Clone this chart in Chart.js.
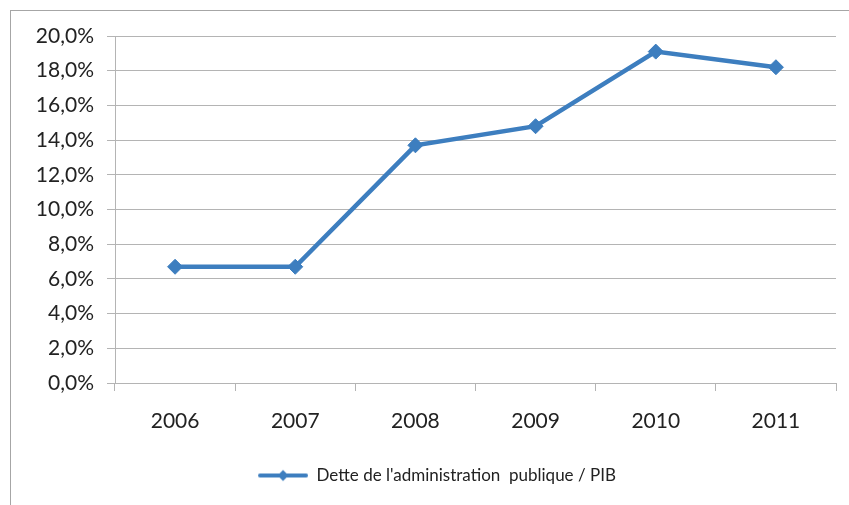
<!DOCTYPE html>
<html>
<head>
<meta charset="utf-8">
<script src="https://cdn.jsdelivr.net/npm/chart.js@4"></script>
<style>
  html, body { margin: 0; padding: 0; background: #fff; }
  #wrap { width: 849px; height: 505px; position: relative; }
</style>
</head>
<body>
<div id="wrap"><canvas id="chart"></canvas></div>
<script>
const years = ['2006', '2007', '2008', '2009', '2010', '2011'];
const detteRatio = [6.7, 6.7, 13.7, 14.8, 19.1, 18.2];
const seriesLabel = "Dette de l'administration  publique / PIB";

const lineColor = '#3d7ebf';
const gridColor = '#b4b4b4';
const textColor = '#222222';
const fontFamily = 'Lato, "Open Sans", sans-serif';

// small line + diamond swatch for the legend (blank space on the left nudges the legend right)
const swatch = document.createElement('canvas');
swatch.width = 78;
swatch.height = 14;
const sctx = swatch.getContext('2d');
sctx.strokeStyle = lineColor;
sctx.lineWidth = 4;
sctx.lineCap = 'round';
sctx.beginPath();
sctx.moveTo(30, 7);
sctx.lineTo(76, 7);
sctx.stroke();
sctx.fillStyle = lineColor;
sctx.beginPath();
sctx.moveTo(53, 1.5);
sctx.lineTo(58.5, 7);
sctx.lineTo(53, 12.5);
sctx.lineTo(47.5, 7);
sctx.closePath();
sctx.fill();

// white background and the outer frame
const framePlugin = {
    id: 'frame',
    beforeDraw(chart) {
        const ctx = chart.ctx;
        ctx.save();
        ctx.fillStyle = '#ffffff';
        ctx.fillRect(0, 0, chart.width, chart.height);
        ctx.strokeStyle = '#a6a6a6';
        ctx.lineWidth = 1;
        ctx.strokeRect(10.5, 10.5, chart.width + 20, chart.height + 20);
        ctx.restore();
    }
};

const ctx = document.getElementById('chart');

new Chart(ctx, {
    type: 'line',
    data: {
        labels: years,
        datasets: [{
            label: seriesLabel,
            data: detteRatio,
            borderColor: lineColor,
            backgroundColor: lineColor,
            borderWidth: 4.5,
            pointStyle: 'rectRot',
            pointRadius: 7.5,
            pointBorderWidth: 1,
            pointBackgroundColor: lineColor,
            pointBorderColor: lineColor,
            tension: 0,
            fill: false
        }]
    },
    options: {
        responsive: true,
        maintainAspectRatio: false,
        animation: false,
        layout: {
            padding: { left: 10, right: 13, top: 36, bottom: 11 }
        },
        scales: {
            x: {
                offset: true,
                grid: {
                    offset: true,
                    drawOnChartArea: false,
                    color: gridColor,
                    tickLength: 8
                },
                border: { color: gridColor },
                ticks: {
                    color: textColor,
                    padding: 18,
                    font: { family: fontFamily, size: 21 }
                },
                afterFit: s => { s.height = 74; }
            },
            y: {
                min: 0,
                max: 20,
                grid: {
                    color: gridColor,
                    tickLength: 8
                },
                border: { color: gridColor },
                ticks: {
                    stepSize: 2,
                    color: textColor,
                    padding: 13,
                    font: { family: fontFamily, size: 21 },
                    callback: v => v.toFixed(1).replace('.', ',') + '%'
                },
                afterFit: s => { s.width = 105; }
            }
        },
        plugins: {
            legend: {
                position: 'bottom',
                labels: {
                    usePointStyle: true,
                    pointStyle: swatch,
                    pointStyleWidth: 78,
                    color: textColor,
                    padding: 10,
                    font: { family: fontFamily, size: 17 }
                }
            },
            tooltip: {
                enabled: false
            }
        }
    },
    plugins: [framePlugin]
});
</script>
</body>
</html>
